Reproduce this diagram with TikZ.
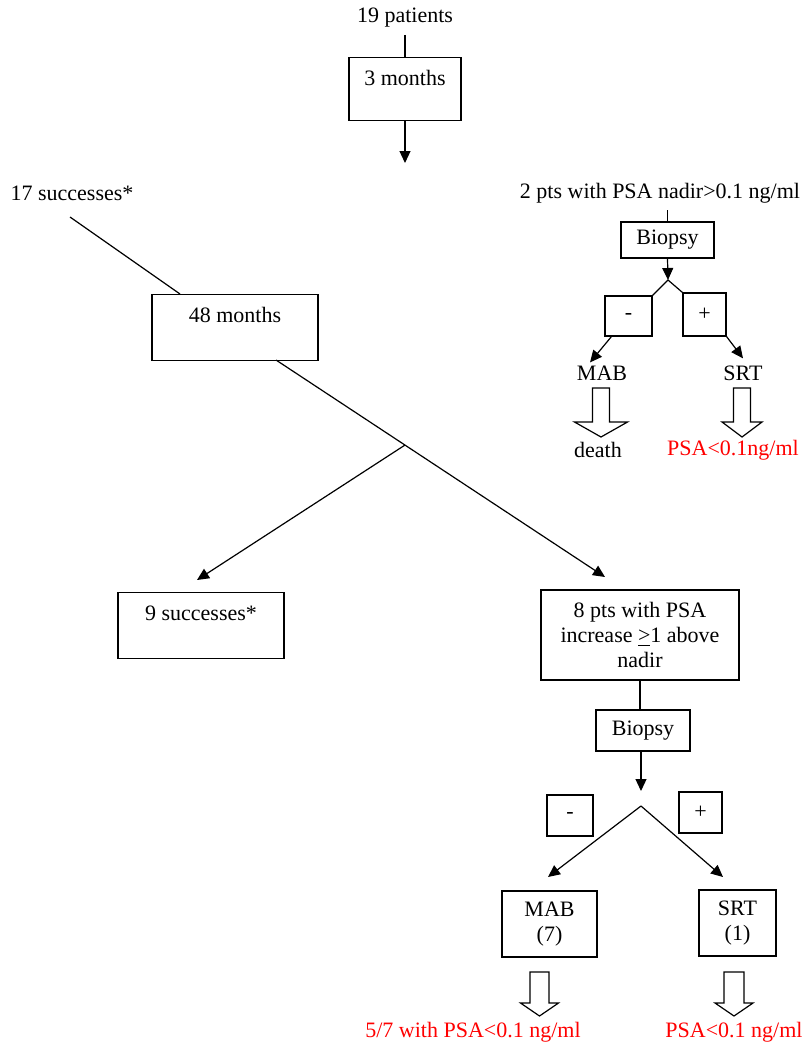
\documentclass[tikz,border=0pt]{standalone}
\usepackage{fontspec}
\setmainfont{Liberation Serif}
\usepackage{xcolor}
\usepackage{tikz}
\usetikzlibrary{calc, arrows.meta}

% hollow down arrow: x, top, half shaft, half head, length, head length
\newcommand{\fatarrow}[6]{%
  \draw (#1-#3,#2) -- (#1+#3,#2) -- (#1+#3,#2+#5-#6) -- (#1+#4,#2+#5-#6)
    -- (#1,#2+#5) -- (#1-#4,#2+#5-#6) -- (#1-#3,#2+#5-#6) -- cycle;}

\begin{document}
\begin{tikzpicture}[x=0.5pt, y=-0.5pt, line width=0.6pt,
  font=\fontsize{11}{12.5}\selectfont,
  arr/.style={-{Triangle[length=6pt, width=5.5pt]}},
  topbox/.style={draw, anchor=north, inner ysep=0pt, text height=14pt},
  box/.style={draw, align=center, inner sep=0pt},
  result/.style={text=red}]
  \useasboundingbox (0,0) rectangle (804,1044);

  % first three months
  \node (pat) at (405,18) {19 patients};
  \node[topbox, minimum width=56pt, text depth=17.5pt] (box3m) at (405,57) {3 months};
  \draw (pat.south -| box3m.north) -- (box3m.north);
  \coordinate (c3) at (405,163);
  \draw[arr] (box3m.south) -- (c3);

  \node (succ17) at (72,193) {17 successes*};
  \node (pts2) at (660,193) {2 pts with PSA nadir>0.1 ng/ml};

  % the two failures
  \node[box, minimum width=46.5pt, minimum height=18pt] (bio1) at (667.5,240) {Biopsy};
  \draw (pts2.south -| bio1.north) -- (bio1.north);
  \coordinate (apex1) at (668,280);
  \draw[arr] (bio1.south) -- (apex1);
  \node[box, minimum width=23.5pt, minimum height=20pt] (minus1) at (628.5,316) {-};
  \node[box, minimum width=21.5pt, minimum height=21.5pt] (plus1) at (704.5,314.5) {+};
  \draw (minus1.north east) -- (apex1) -- (plus1.north west);
  \node (mab1) at (602,373) {MAB};
  \node (srt1) at (743,373) {SRT};
  \draw[arr] ($(minus1.south west)+(7,0)$) -- ($(mab1.north)+(-12,4)$);
  \draw[arr] (plus1.south east) -- (srt1.north);
  \fatarrow{601}{388}{8.5}{26.5}{49}{15}
  \fatarrow{742}{388}{8.5}{20}{49}{15}
  \node (death) at (598,450) {death};
  \node[result] (psa1) at (733,450) {PSA<0.1ng/ml};

  % the 17 successes at 48 months
  \node[topbox, minimum width=83pt, text depth=19pt] (box48) at (235,294) {48 months};
  \coordinate (s17) at (70,217);
  \draw (s17) -- (box48.north west -| 180,0);
  \coordinate (m48) at (276,360);
  \coordinate (a8) at (605,577);
  \coordinate (a9) at (197,580);
  \draw[arr] (m48) -- (a8);
  \draw[arr] ($(m48)!0.392!(a8)$) -- (a9);

  \node[topbox, minimum width=83pt, text depth=19pt] (box9) at (201,592) {9 successes*};
  \node[box, minimum width=99pt, minimum height=45pt] (box8) at (640,635)
    {8 pts with PSA\\increase \underline{>}1 above\\nadir};

  % biopsy after PSA increase
  \node[box, minimum width=47pt, minimum height=20.5pt] (bio2) at (643,730.5) {Biopsy};
  \draw (box8.south) -- (bio2.north -| box8.south);
  \coordinate (t2) at (641,791);
  \draw[arr] (bio2.south -| t2) -- (t2);
  \node[box, minimum width=23pt, minimum height=20.5pt] (minus2) at (570,815.5) {-};
  \node[box, minimum width=21.5pt, minimum height=20.5pt] (plus2) at (700.5,812.5) {+};
  \coordinate (apex2) at (641,806);
  \coordinate (tm) at (548,877);
  \coordinate (tp) at (723,877);
  \draw[arr] (apex2) -- (tm);
  \draw[arr] (apex2) -- (tp);
  \node[box, minimum width=47.5pt, minimum height=33pt] (mab2) at (549.5,924) {MAB\\(7)};
  \node[box, minimum width=38.5pt, minimum height=33pt] (srt2) at (737.5,923) {SRT\\(1)};
  \fatarrow{539.5}{972}{9.5}{19}{44}{13}
  \fatarrow{734}{972}{10}{19}{44}{13}
  \node[result] (psa2) at (473,1032) {5/7 with PSA<0.1 ng/ml};
  \node[result] (psa3) at (734,1032) {PSA<0.1 ng/ml};
\end{tikzpicture}
\end{document}
